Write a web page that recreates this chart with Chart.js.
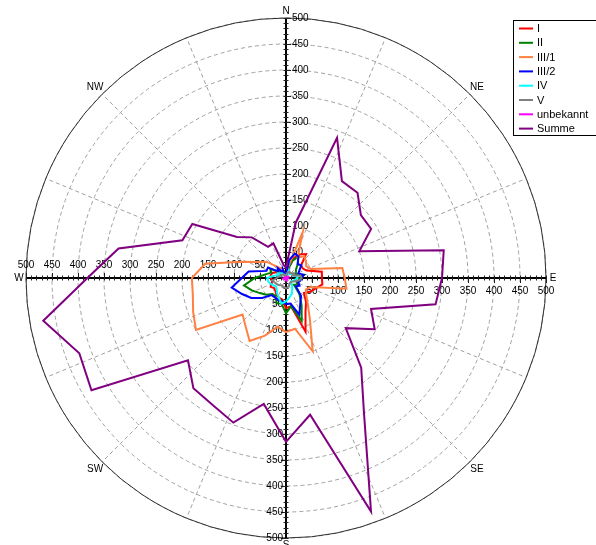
<!DOCTYPE html>
<html>
<head>
<meta charset="utf-8">
<script src="https://cdn.jsdelivr.net/npm/chart.js@4.4.1/dist/chart.umd.min.js"></script>
<style>
  html, body { margin: 0; padding: 0; background: #fff; overflow: hidden; }
  #wrap { position: relative; width: 596px; height: 545px; }
</style>
</head>
<body>
<div id="wrap"><canvas id="rose" width="596" height="545"></canvas></div>
<script>
// Directions in degrees, clockwise from north
const directions = [0, 10, 20, 30, 40, 50, 60, 70, 80, 90, 100, 110, 120, 130, 140, 150, 160, 170,
                    180, 190, 200, 210, 220, 230, 240, 250, 260, 270, 280, 290, 300, 310, 320, 330, 340, 350];

const seriesNames = ['I', 'II', 'III/1', 'III/2', 'IV', 'V', 'unbekannt', 'Summe'];
const seriesColors = ['#ff0000', '#008000', '#ff8040', '#0000ff', '#00ffff', '#808080', '#ff00ff', '#800080'];

const valuesI      = [6, 15, 40, 52, 60, 38, 37, 42, 70, 69, 71, 60, 53, 45, 60, 75, 110, 55,
                      58, 42, 40, 37, 32, 30, 34, 30, 26, 30, 30, 28, 22, 18, 14, 12, 12, 8];
const valuesII     = [3, 12, 35, 47, 35, 25, 22, 20, 35, 25, 25, 22, 25, 20, 40, 60, 88, 55,
                      68, 50, 52, 40, 40, 50, 58, 70, 82, 60, 40, 30, 35, 20, 20, 15, 12, 5];
const valuesIII1   = [5, 20, 94, 45, 55, 50, 45, 51, 110, 113, 118, 50, 44, 51, 65, 92, 150, 99,
                      104, 95, 118, 140, 121, 109, 200, 190, 182, 181, 158, 91, 62, 48, 30, 22, 20, 5];
const valuesIII2   = [4, 35, 50, 48, 35, 38, 30, 25, 35, 30, 28, 25, 30, 25, 45, 55, 75, 50,
                      50, 45, 45, 43, 43, 60, 77, 90, 106, 85, 73, 40, 40, 20, 25, 12, 18, 4];
const valuesIV     = [2, 5, 15, 12, 10, 12, 15, 14, 20, 22, 18, 15, 12, 14, 18, 24, 32, 38,
                      45, 50, 40, 34, 28, 25, 28, 32, 35, 36, 24, 15, 18, 14, 12, 6, 6, 3];
const valuesV      = [0, 5, 12, 14, 12, 14, 18, 14, 28, 30, 26, 18, 14, 12, 12, 14, 16, 18,
                      20, 18, 18, 16, 18, 20, 22, 24, 26, 18, 15, 10, 12, 10, 8, 8, 4, 2];
const valuesUnbek  = [0, 1, 2, 2, 1, 2, 3, 2, 3, 4, 3, 2, 2, 1, 2, 3, 4, 3,
                      4, 3, 3, 2, 3, 3, 4, 4, 5, 4, 3, 2, 2, 2, 1, 1, 1, 0];
const valuesSumme  = [20, 108, 287, 215, 214, 188, 189, 150, 308, 300, 292, 174, 197, 150, 225, 300, 478, 267,
                      315, 246, 296, 282, 277, 246, 432, 423, 474, 382, 327, 212, 208, 123, 102, 69, 71, 25];

const radialTicks = [50, 100, 150, 200, 250, 300, 350, 400, 450, 500];
const compassLabels = [
  { angle: 0, text: 'N' }, { angle: 45, text: 'NE' }, { angle: 90, text: 'E' }, { angle: 135, text: 'SE' },
  { angle: 180, text: 'S' }, { angle: 225, text: 'SW' }, { angle: 270, text: 'W' }, { angle: 315, text: 'NW' }
];
const spokeAngles = [22.5, 45, 67.5, 112.5, 135, 157.5, 202.5, 225, 247.5, 292.5, 315, 337.5];

const seriesValues = [valuesI, valuesII, valuesIII1, valuesIII2, valuesIV, valuesV, valuesUnbek, valuesSumme];

const FONT = '"Liberation Sans", Arial, sans-serif';

const datasets = seriesNames.map((name, i) => ({
  label: name,
  data: seriesValues[i],
  borderColor: seriesColors[i],
  backgroundColor: 'transparent',
  borderWidth: 2,
  fill: false,
  pointRadius: 0,
  pointHitRadius: 0,
  tension: 0,
  order: seriesNames.length - 1 - i
}));

// Axes, spokes, tick labels and compass directions around the radial scale
const polarFrame = {
  id: 'polarFrame',
  beforeDatasetsDraw(chart) {
    const s = chart.scales.r;
    const ctx = chart.ctx;
    const cx = s.xCenter, cy = s.yCenter;
    const R = s.getDistanceFromCenterForValue(s.max);
    ctx.save();

    // dashed spokes
    ctx.strokeStyle = '#a0a0a0';
    ctx.lineWidth = 1;
    ctx.setLineDash([4, 3]);
    spokeAngles.forEach(a => {
      const t = a * Math.PI / 180;
      ctx.beginPath();
      ctx.moveTo(cx, cy);
      ctx.lineTo(cx + R * Math.sin(t), cy - R * Math.cos(t));
      ctx.stroke();
    });
    ctx.setLineDash([]);

    // outer ring
    ctx.strokeStyle = '#303030';
    ctx.lineWidth = 1;
    ctx.beginPath();
    ctx.arc(cx, cy, R, 0, Math.PI * 2);
    ctx.stroke();

    // main axes
    ctx.strokeStyle = '#000';
    ctx.lineWidth = 2;
    ctx.beginPath();
    ctx.moveTo(cx - R, cy); ctx.lineTo(cx + R, cy);
    ctx.moveTo(cx, cy - R); ctx.lineTo(cx, cy + R);
    ctx.stroke();

    // minor and major tick marks
    ctx.lineWidth = 1;
    ctx.strokeStyle = '#202020';
    ctx.beginPath();
    for (let v = 10; v <= s.max; v += 10) {
      const d = Math.round(s.getDistanceFromCenterForValue(v));
      const major = v % 50 === 0;
      const len = major ? 4 : 1.5;
      // north
      ctx.moveTo(cx - 2.5, cy - d + 0.5); ctx.lineTo(cx + 1 + len, cy - d + 0.5);
      // south
      ctx.moveTo(cx - 1 - len, cy + d + 0.5); ctx.lineTo(cx + 2.5, cy + d + 0.5);
      // east
      ctx.moveTo(cx + d + 0.5, cy - 2.5); ctx.lineTo(cx + d + 0.5, cy + 1 + len);
      // west
      ctx.moveTo(cx - d + 0.5, cy - 1 - len); ctx.lineTo(cx - d + 0.5, cy + 2.5);
    }
    ctx.stroke();

    // tick labels along the four axes
    ctx.fillStyle = '#000';
    ctx.font = '10px ' + FONT;
    radialTicks.forEach(v => {
      const d = s.getDistanceFromCenterForValue(v);
      const t = String(v);
      ctx.textAlign = 'left'; ctx.textBaseline = 'middle';
      ctx.fillText(t, cx + 6, cy - d);
      ctx.textAlign = 'right';
      ctx.fillText(t, cx - 3, cy + d);
      ctx.textAlign = 'center'; ctx.textBaseline = 'top';
      ctx.fillText(t, cx + d, cy + 8);
      ctx.textBaseline = 'bottom';
      ctx.fillText(t, cx - d, cy - 8);
    });

    // compass directions
    ctx.font = '10px ' + FONT;
    ctx.textAlign = 'center'; ctx.textBaseline = 'middle';
    compassLabels.forEach(c => {
      const t = c.angle * Math.PI / 180;
      const diag = c.angle % 90 !== 0;
      const off = diag ? 10 : 7;
      const x = cx + (R + off) * Math.sin(t);
      const y = cy - (R + off) * Math.cos(t);
      ctx.fillText(c.text, x, y);
    });
    ctx.restore();
  },
  afterDraw(chart) {
    const ctx = chart.ctx;
    const x0 = 513, y0 = 20, w = 90, h = 115;
    ctx.save();
    ctx.fillStyle = '#fff';
    ctx.fillRect(x0, y0, w, h);
    ctx.strokeStyle = '#000';
    ctx.lineWidth = 1;
    ctx.strokeRect(x0 + 0.5, y0 + 0.5, w, h);
    ctx.font = '11px ' + FONT;
    ctx.textAlign = 'left';
    ctx.textBaseline = 'middle';
    chart.data.datasets.forEach((ds, i) => {
      const y = y0 + 8.5 + i * 14.3;
      ctx.strokeStyle = ds.borderColor;
      ctx.lineWidth = 2;
      ctx.beginPath();
      ctx.moveTo(x0 + 6, y); ctx.lineTo(x0 + 20, y);
      ctx.stroke();
      ctx.fillStyle = '#000';
      ctx.fillText(ds.label, x0 + 24, y + 0.5);
    });
    ctx.restore();
  }
};

new Chart(document.getElementById('rose'), {
  type: 'radar',
  data: { labels: directions.map(String), datasets },
  plugins: [polarFrame],
  options: {
    responsive: false,
    animation: false,
    devicePixelRatio: 1,
    layout: { padding: { left: 26, top: 18, right: 50, bottom: 7 } },
    plugins: { legend: { display: false }, tooltip: { enabled: false } },
    elements: { line: { borderJoinStyle: 'miter' } },
    scales: {
      r: {
        min: 0,
        max: 500,
        startAngle: 0,
        ticks: { display: false, stepSize: 50 },
        pointLabels: { display: false },
        angleLines: { display: false },
        grid: { circular: true, color: '#a0a0a0', lineWidth: 1 },
        border: { dash: [4, 3] }
      }
    }
  }
});
</script>
</body>
</html>
